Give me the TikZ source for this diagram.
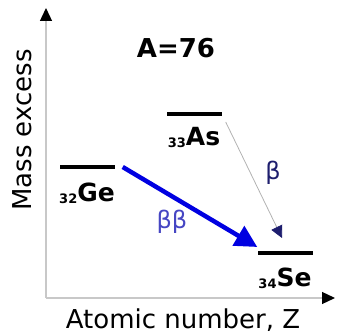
\documentclass[tikz,border=0pt]{standalone}
\usepackage{fontspec}
\setmainfont{DejaVu Sans}
\usetikzlibrary{positioning, arrows.meta}
\definecolor{bbBlue}{RGB}{0, 0, 225}
\definecolor{bbLabel}{RGB}{70, 70, 195}
\definecolor{bNavy}{RGB}{30, 30, 110}
\definecolor{axisGrey}{RGB}{200, 200, 200}
\newcommand{\nucl}[2]{\raisebox{-0.15ex}{\fontsize{13}{13}\selectfont #1}#2}

\begin{document}
\begin{tikzpicture}[
    x=1pt, y=-1pt,
    level/.style={rectangle, fill=black, minimum width=55pt, minimum height=3.5pt, inner sep=0pt},
    nuclide/.style={font=\fontsize{25}{27}\selectfont\bfseries, inner sep=0pt},
    axislabel/.style={font=\fontsize{26}{28}\selectfont, inner sep=0pt},
    axisline/.style={draw=axisGrey, line width=1.3pt,
                     -{Triangle[color=black, length=13pt, width=12pt]}},
  ]
    \useasboundingbox (0,0) rectangle (337,334);

    % axes
    \coordinate (O) at (46,298);
    \coordinate (Ytop) at (46,8);
    \coordinate (Xend) at (335,298);
    \draw[axisline] (O) -- (Ytop);
    \draw[axisline] (O) -- (Xend);
    \node[axislabel, rotate=90] (ylab) at (22,130) {Mass excess};
    \node[axislabel] (xlab) at (183,320) {Atomic number, Z};

    % mass number
    \node[font=\fontsize{26}{28}\selectfont\bfseries] (mass) at (176,48) {A=76};

    % levels
    \node[level] (Ge) at (87,167) {};
    \node[level] (As) at (194,114) {};
    \node[level] (Se) at (285,253) {};

    \node[nuclide, below=14pt of Ge] (GeLab) {\nucl{32}{Ge}};
    \node[nuclide, below=11pt of As] (AsLab) {\nucl{33}{As}};
    \node[nuclide, below=13pt of Se] (SeLab) {\nucl{34}{Se}};

    % double beta decay
    \draw[bbBlue, line width=4.5pt, -{Triangle[length=22pt, width=22pt]}]
      ([xshift=8pt]Ge.east) -- ([yshift=6pt]Se.west);
    \node[bbLabel, font=\fontsize{24}{26}\selectfont] (bb) at (172,222) {ββ};

    % single beta decay
    \draw[axisGrey!70!gray, line width=0.8pt, -{Triangle[color=bNavy, length=12pt, width=12pt]}]
      ([xshift=4pt, yshift=-8pt]As.east) -- ([xshift=-3pt, yshift=15pt]Se.center);
    \node[bNavy, font=\fontsize{24}{26}\selectfont] (b) at (273,173) {β};
  \end{tikzpicture}
\end{document}
